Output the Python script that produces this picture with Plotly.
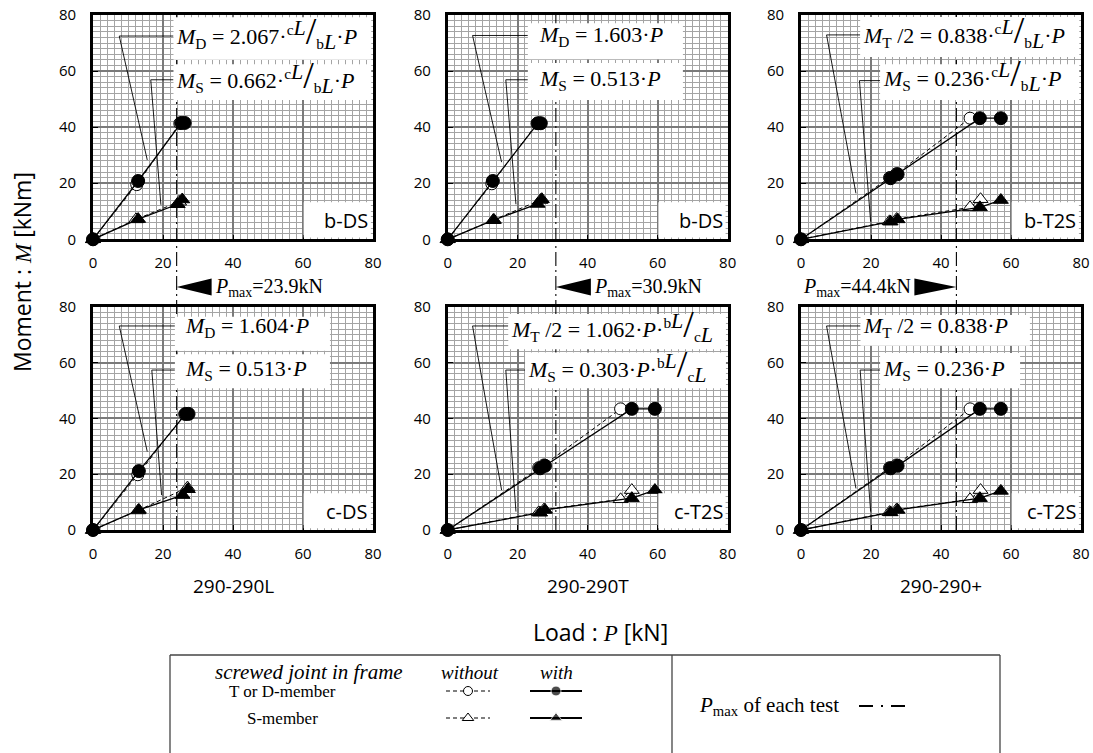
import plotly.graph_objects as go

W, H = 1093, 753

# ---------------- data ----------------
col_titles = ["290-290L", "290-290T", "290-290+"]
tags_top = ["b-DS", "b-DS", "b-T2S"]
tags_bot = ["c-DS", "c-T2S", "c-T2S"]
p_max = [23.9, 30.9, 44.4]          # kN, one per specimen column
axis_ticks = [0, 20, 40, 60, 80]

# slope coefficients of the fitted moment formulas
coef_top_1 = [2.067, 1.603, 0.838]
coef_top_2 = [0.662, 0.513, 0.236]
coef_bot_1 = [1.604, 1.062, 0.838]
coef_bot_2 = [0.513, 0.303, 0.236]

# 290-290L, b-DS
bL_D_with_P = [0, 12.9, 25.2, 26.2]
bL_D_with_M = [0, 20.8, 41.5, 41.5]
bL_D_wo_P = [0, 12.5, 24.8]
bL_D_wo_M = [0, 19.5, 41.3]
bL_S_with_P = [0, 12.9, 24.2, 25.5]
bL_S_with_M = [0, 7.2, 12.5, 14.2]
bL_S_wo_P = [0, 12.3, 24.6]
bL_S_wo_M = [0, 7.1, 13.4]

# 290-290T, b-DS
bT_D_with_P = [0, 12.9, 25.8, 26.6]
bT_D_with_M = [0, 20.8, 41.4, 41.4]
bT_D_wo_P = [0, 12.6, 25.5]
bT_D_wo_M = [0, 19.8, 41.3]
bT_S_with_P = [0, 13.2, 25.7, 26.9]
bT_S_with_M = [0, 6.9, 12.6, 14.3]
bT_S_wo_P = [0, 13.0, 26.5]
bT_S_wo_M = [0, 6.8, 14.0]

# 290-290+, b-T2S
bX_D_with_P = [0, 25.6, 27.6, 51.1, 57.1]
bX_D_with_M = [0, 21.8, 23.2, 43.2, 43.2]
bX_D_wo_P = [0, 25.3, 27.3, 48.3]
bX_D_wo_M = [0, 22.0, 23.4, 43.2]
bX_S_with_P = [0, 25.6, 27.6, 51.1, 57.1]
bX_S_with_M = [0, 6.3, 7.1, 11.4, 14.0]
bX_S_wo_P = [0, 25.3, 27.3, 48.3, 51.3]
bX_S_wo_M = [0, 6.4, 7.2, 11.4, 14.3]

# 290-290L, c-DS
cL_D_with_P = [0, 13.1, 26.5, 27.3]
cL_D_with_M = [0, 21.1, 41.6, 41.6]
cL_D_wo_P = [0, 12.8, 26.2]
cL_D_wo_M = [0, 19.8, 41.5]
cL_S_with_P = [0, 13.1, 25.6, 27.1]
cL_S_with_M = [0, 7.2, 12.5, 14.6]
cL_S_wo_P = [0, 12.9, 27.0]
cL_S_wo_M = [0, 7.0, 15.2]

# 290-290T, c-T2S
cT_D_with_P = [0, 26.4, 27.8, 52.6, 59.2]
cT_D_with_M = [0, 22.1, 23.0, 43.4, 43.4]
cT_D_wo_P = [0, 26.0, 27.5, 49.4]
cT_D_wo_M = [0, 22.3, 23.3, 43.4]
cT_S_with_P = [0, 26.4, 27.8, 52.6, 59.2]
cT_S_with_M = [0, 6.2, 7.2, 11.4, 14.3]
cT_S_wo_P = [0, 26.0, 27.5, 49.4, 52.6]
cT_S_wo_M = [0, 6.3, 7.3, 11.0, 14.3]

# 290-290+, c-T2S
cX_D_with_P = [0, 25.6, 27.6, 51.1, 57.1]
cX_D_with_M = [0, 22.1, 23.0, 43.4, 43.4]
cX_D_wo_P = [0, 25.3, 27.3, 48.3]
cX_D_wo_M = [0, 22.3, 23.3, 43.4]
cX_S_with_P = [0, 25.6, 27.6, 51.1, 57.1]
cX_S_with_M = [0, 6.3, 7.2, 11.4, 14.0]
cX_S_wo_P = [0, 25.3, 27.3, 48.3, 51.3]
cX_S_wo_M = [0, 6.4, 7.3, 11.0, 14.3]

# ---------------- styling / layout geometry ----------------
SERIF = "Liberation Serif"
SANS = "Open Sans"
FS = 22
MINOR = "#a4a4a4"
MAJOR = "#7a7a7a"

col_px = [(93, 373), (447.7, 727.7), (801, 1081)]
row_px = [(15, 239.3), (306.7, 530)]


def frac(num, den):
    return (f"<sup>{num}<span style='font-size:{FS}px'><i>L</i></span></sup>"
            f"<span style='font-size:38px'>/</span>"
            f"<sub>{den}<span style='font-size:{FS}px'><i>L</i></span></sub>")


def ref(n):
    return "" if n == 1 else str(n)


panels = [
    dict(row=0, col=0, tag=tags_top[0],
         D_with=(bL_D_with_P, bL_D_with_M), D_wo=(bL_D_wo_P, bL_D_wo_M),
         S_with=(bL_S_with_P, bL_S_with_M), S_wo=(bL_S_wo_P, bL_S_wo_M),
         f1=f"<i>M</i><sub>D</sub> = {coef_top_1[0]:.3f}·{frac('c', 'b')}·<i>P</i>",
         f2=f"<i>M</i><sub>S</sub> = {coef_top_2[0]:.3f}·{frac('c', 'b')}·<i>P</i>",
         box1=(23.0, 80, 64.0, 79.2), box2=(23.0, 80, 49.7, 62.4),
         t1=(23.2, 73.8), t2=(23.2, 58.3),
         lead1=([23.0, 7.5, 15.5], [72.5, 72.5, 28.3]),
         lead2=([23.0, 16.5, 19.4], [56.9, 56.9, 12.3])),
    dict(row=0, col=1, tag=tags_top[1],
         D_with=(bT_D_with_P, bT_D_with_M), D_wo=(bT_D_wo_P, bT_D_wo_M),
         S_with=(bT_S_with_P, bT_S_with_M), S_wo=(bT_S_wo_P, bT_S_wo_M),
         f1=f"<i>M</i><sub>D</sub> = {coef_top_1[1]:.3f}·<i>P</i>",
         f2=f"<i>M</i><sub>S</sub> = {coef_top_2[1]:.3f}·<i>P</i>",
         box1=(22.9, 67.2, 64.2, 77.1), box2=(22.9, 67.2, 49.7, 62.9),
         t1=(25.4, 72.4), t2=(25.4, 56.9),
         lead1=([22.9, 7.1, 15.4], [72.7, 72.7, 27.5]),
         lead2=([22.9, 16.6, 19.5], [56.9, 56.9, 12.5])),
    dict(row=0, col=2, tag=tags_top[2],
         D_with=(bX_D_with_P, bX_D_with_M), D_wo=(bX_D_wo_P, bX_D_wo_M),
         S_with=(bX_S_with_P, bX_S_with_M), S_wo=(bX_S_wo_P, bX_S_wo_M),
         f1=f"<i>M</i><sub>T</sub> /2 = {coef_top_1[2]:.3f}·{frac('c', 'b')}·<i>P</i>",
         f2=f"<i>M</i><sub>S</sub> = {coef_top_2[2]:.3f}·{frac('c', 'b')}·<i>P</i>",
         box1=(16.9, 80, 65.0, 79.3), box2=(22.6, 80, 49.7, 62.4),
         t1=(17.1, 74.3), t2=(22.8, 58.8),
         lead1=([16.9, 7.3, 15.7], [72.9, 72.9, 16.4]),
         lead2=([22.6, 16.7, 19.9], [56.6, 56.6, 6.3])),
    dict(row=1, col=0, tag=tags_bot[0],
         D_with=(cL_D_with_P, cL_D_with_M), D_wo=(cL_D_wo_P, cL_D_wo_M),
         S_with=(cL_S_with_P, cL_S_with_M), S_wo=(cL_S_wo_P, cL_S_wo_M),
         f1=f"<i>M</i><sub>D</sub> = {coef_bot_1[0]:.3f}·<i>P</i>",
         f2=f"<i>M</i><sub>S</sub> = {coef_bot_2[0]:.3f}·<i>P</i>",
         box1=(23.4, 67.7, 64.2, 76.4), box2=(23.4, 67.7, 50.8, 63.0),
         t1=(25.8, 72.6), t2=(25.8, 57.3),
         lead1=([23.4, 7.5, 15.5], [73.1, 73.1, 28.1]),
         lead2=([23.4, 16.8, 19.6], [57.3, 57.3, 12.5])),
    dict(row=1, col=1, tag=tags_bot[1],
         D_with=(cT_D_with_P, cT_D_with_M), D_wo=(cT_D_wo_P, cT_D_wo_M),
         S_with=(cT_S_with_P, cT_S_with_M), S_wo=(cT_S_wo_P, cT_S_wo_M),
         f1=f"<i>M</i><sub>T</sub> /2 = {coef_bot_1[1]:.3f}·<i>P</i>·{frac('b', 'c')}",
         f2=f"<i>M</i><sub>S</sub> = {coef_bot_2[1]:.3f}·<i>P</i>·{frac('b', 'c')}",
         box1=(17.3, 80, 64.8, 77.4), box2=(22.1, 80, 50.8, 63.6),
         t1=(17.5, 73.6), t2=(22.3, 59.2),
         lead1=([17.3, 7.1, 15.4], [73.1, 73.1, 14.3]),
         lead2=([22.1, 16.6, 19.5], [57.3, 57.3, 6.6])),
    dict(row=1, col=2, tag=tags_bot[2],
         D_with=(cX_D_with_P, cX_D_with_M), D_wo=(cX_D_wo_P, cX_D_wo_M),
         S_with=(cX_S_with_P, cX_S_with_M), S_wo=(cX_S_wo_P, cX_S_wo_M),
         f1=f"<i>M</i><sub>T</sub> /2 = {coef_bot_1[2]:.3f}·<i>P</i>",
         f2=f"<i>M</i><sub>S</sub> = {coef_bot_2[2]:.3f}·<i>P</i>",
         box1=(17.0, 65.4, 66.0, 77.0), box2=(22.6, 62.6, 50.8, 63.4),
         t1=(17.2, 72.7), t2=(22.8, 57.3),
         lead1=([17.0, 7.3, 15.7], [73.1, 73.1, 14.9]),
         lead2=([22.6, 16.9, 19.9], [57.3, 57.3, 6.6])),
]

fig = go.Figure()
shapes, annotations = [], []
layout_axes = {}


def axis_style(domain, anchor, is_x):
    return dict(
        domain=domain, anchor=anchor, range=[0, 80], automargin=False,
        tickmode="linear", tick0=0, dtick=20,
        showgrid=True, gridcolor=MAJOR, gridwidth=2.4,
        minor=dict(tickmode="linear", tick0=0, dtick=2, showgrid=True,
                   gridcolor=MINOR, gridwidth=1.3),
        showline=True, linecolor="black", linewidth=2.6, mirror=True,
        ticks="inside", ticklen=5, tickwidth=1.2, tickcolor="black",
        zeroline=False, fixedrange=True,
        tickfont=dict(family=SANS, size=15, color="black"),
        ticklabelstandoff=8 if is_x else 11,
    )


for p in panels:
    n = p["row"] * 3 + p["col"] + 1
    xr, yr = "x" + ref(n), "y" + ref(n)
    x0, x1 = col_px[p["col"]]
    y0, y1 = row_px[p["row"]]
    layout_axes["xaxis" + ref(n)] = axis_style([x0 / W, x1 / W], yr, True)
    layout_axes["yaxis" + ref(n)] = axis_style([1 - y1 / H, 1 - y0 / H], xr, False)

    # leader lines from the formula boxes
    for key in ("lead1", "lead2"):
        lx, ly = p[key]
        fig.add_trace(go.Scatter(x=lx, y=ly, xaxis=xr, yaxis=yr, mode="lines",
                                 line=dict(color="black", width=0.9),
                                 showlegend=False, hoverinfo="skip"))

    # test results: without (dashed, open) under with (solid, filled)
    for key, sym, size in (("S_wo", "triangle-up", 13), ("D_wo", "circle", 12)):
        px_, my_ = p[key]
        fig.add_trace(go.Scatter(x=px_, y=my_, xaxis=xr, yaxis=yr, mode="lines+markers",
                                 line=dict(color="black", width=1.0, dash="4px,3px"),
                                 marker=dict(symbol=sym, size=size, color="white",
                                             line=dict(color="black", width=1)),
                                 cliponaxis=False, showlegend=False, hoverinfo="skip"))
    for key, sym, size in (("S_with", "triangle-up", 13), ("D_with", "circle", 13)):
        px_, my_ = p[key]
        fig.add_trace(go.Scatter(x=px_, y=my_, xaxis=xr, yaxis=yr, mode="lines+markers",
                                 line=dict(color="black", width=1.3),
                                 marker=dict(symbol=sym, size=size, color="black",
                                             line=dict(color="black", width=1)),
                                 cliponaxis=False, showlegend=False, hoverinfo="skip"))

# P_max lines spanning both rows of each column
top_paper = 1 - row_px[0][0] / H
bot_paper = 1 - row_px[1][1] / H
for c, pm in enumerate(p_max):
    shapes.append(dict(type="line", xref="x" + ref(c + 1), yref="paper",
                       x0=pm, x1=pm, y0=bot_paper, y1=top_paper, layer="above",
                       line=dict(color="black", width=1.1, dash="14px,4px,2px,4px")))

# white boxes behind formulas and panel tags
for p in panels:
    n = p["row"] * 3 + p["col"] + 1
    xr, yr = "x" + ref(n), "y" + ref(n)
    for key in ("box1", "box2"):
        bx0, bx1, by0, by1 = p[key]
        shapes.append(dict(type="rect", xref=xr, yref=yr, x0=bx0, x1=min(bx1, 79.5),
                           y0=by0, y1=by1, fillcolor="white", line=dict(width=0), layer="above"))
    shapes.append(dict(type="rect", xref=xr, yref=yr, x0=60.2, x1=79.4, y0=0.6, y1=13.2,
                       fillcolor="white", line=dict(width=0), layer="above"))
    for key, tk in (("f1", "t1"), ("f2", "t2")):
        annotations.append(dict(xref=xr, yref=yr, x=p[tk][0], y=p[tk][1], text=p[key],
                                xanchor="left", yanchor="middle", showarrow=False,
                                font=dict(family=SERIF, size=FS, color="black")))
    annotations.append(dict(xref=xr, yref=yr, x=79.2, y=6.6, text=p["tag"],
                            xanchor="right", yanchor="middle", showarrow=False,
                            font=dict(family=SANS, size=20, color="black")))

# P_max labels with arrowheads between the rows
lab_y = 1 - 287 / H
half = 8.5 / H
for c, pm in enumerate(p_max):
    xr = "x" + ref(c + 1)
    label = f"<i>P</i><sub>max</sub>={pm}kN"
    if c < 2:
        shapes.append(dict(type="path", xref=xr, yref="paper",
                           path=f"M {pm},{lab_y} L {pm + 10},{lab_y + half} L {pm + 10},{lab_y - half} Z",
                           fillcolor="black", line=dict(width=0), layer="above"))
        annotations.append(dict(xref=xr, yref="paper", x=pm + 10.3, y=lab_y, text=label,
                                xanchor="left", yanchor="middle", showarrow=False,
                                font=dict(family=SERIF, size=20, color="black")))
    else:
        shapes.append(dict(type="path", xref=xr, yref="paper",
                           path=f"M {pm},{lab_y} L {pm - 12},{lab_y + half} L {pm - 12},{lab_y - half} Z",
                           fillcolor="black", line=dict(width=0), layer="above"))
        annotations.append(dict(xref=xr, yref="paper", x=pm - 12.3, y=lab_y, text=label,
                                xanchor="right", yanchor="middle", showarrow=False,
                                font=dict(family=SERIF, size=20, color="black")))

# column titles and axis titles
for c, t in enumerate(col_titles):
    cx = (col_px[c][0] + col_px[c][1]) / 2 / W
    annotations.append(dict(xref="paper", yref="paper", x=cx, y=1 - 586 / H, text=t,
                            showarrow=False, xanchor="center", yanchor="middle",
                            font=dict(family=SANS, size=19, color="black")))
annotations.append(dict(xref="paper", yref="paper", x=600 / W, y=1 - 632 / H,
                        text=f"Load : <span style='font-family:{SERIF}'><i>P</i></span> [kN]",
                        showarrow=False, xanchor="center", yanchor="middle",
                        font=dict(family=SANS, size=23, color="black")))
annotations.append(dict(xref="paper", yref="paper", x=22 / W, y=1 - 272 / H,
                        text=f"Moment : <span style='font-family:{SERIF}'><i>M</i></span> [kNm]",
                        showarrow=False, xanchor="center", yanchor="middle", textangle=-90,
                        font=dict(family=SANS, size=23, color="black")))

# ---------------- key box (pixel coordinates on a hidden axis) ----------------
LX0, LX1, LY0 = 160, 1010, 645
layout_axes["xaxis7"] = dict(domain=[LX0 / W, LX1 / W], range=[LX0, LX1], visible=False,
                             fixedrange=True, anchor="y7", automargin=False)
layout_axes["yaxis7"] = dict(domain=[0, (H - LY0) / H], range=[H, LY0], visible=False,
                             fixedrange=True, anchor="x7", automargin=False)

box_l, box_r, box_t, box_b, box_div = 170, 1000, 655, 753, 672
for xs, ys in (([box_l, box_r], [box_t, box_t]), ([box_l, box_l], [box_t, box_b]),
               ([box_r, box_r], [box_t, box_b]), ([box_div, box_div], [box_t, box_b])):
    fig.add_trace(go.Scatter(x=xs, y=ys, xaxis="x7", yaxis="y7", mode="lines",
                             line=dict(color="#444444", width=1.3), cliponaxis=False,
                             showlegend=False, hoverinfo="skip"))

row_D, row_S, row_head, row_pm = 691, 718, 672, 706
key_rows = [(row_D, "circle", 9), (row_S, "triangle-up", 10)]
for ry, sym, size in key_rows:
    fig.add_trace(go.Scatter(x=[446, 468, 490], y=[ry, ry, ry], xaxis="x7", yaxis="y7",
                             mode="lines", line=dict(color="black", width=1.2, dash="4px,3px"),
                             showlegend=False, hoverinfo="skip"))
    fig.add_trace(go.Scatter(x=[468], y=[ry], xaxis="x7", yaxis="y7", mode="markers",
                             marker=dict(symbol=sym, size=size, color="white",
                                         line=dict(color="black", width=1)),
                             showlegend=False, hoverinfo="skip"))
    fig.add_trace(go.Scatter(x=[530, 556, 582], y=[ry, ry, ry], xaxis="x7", yaxis="y7",
                             mode="lines+markers", line=dict(color="black", width=2),
                             marker=dict(symbol=sym, size=[0, size + 1, 0], color="black"),
                             showlegend=False, hoverinfo="skip"))
fig.add_trace(go.Scatter(x=[859, 905], y=[row_pm, row_pm], xaxis="x7", yaxis="y7",
                         mode="lines", line=dict(color="black", width=2, dash="14px,8px,2px,8px"),
                         showlegend=False, hoverinfo="skip"))

key_texts = [
    (309, row_head, "<i>screwed joint in frame</i>", "center", 21),
    (470, row_head, "<i>without</i>", "center", 19),
    (556, row_head, "<i>with</i>", "center", 19),
    (282, row_D, "T or D-member", "center", 17),
    (282, row_S, "S-member", "center", 17),
    (697, row_pm, "<i>P</i><sub>max</sub> of each test", "left", 21),
]
for kx, ky, kt, anc, ks in key_texts:
    annotations.append(dict(xref="x7", yref="y7", x=kx, y=ky, text=kt, showarrow=False,
                            xanchor=anc, yanchor="middle",
                            font=dict(family=SERIF, size=ks, color="black")))

fig.update_layout(
    width=W, height=H, margin=dict(l=0, r=0, t=0, b=0, autoexpand=False),
    paper_bgcolor="white", plot_bgcolor="rgba(0,0,0,0)",
    showlegend=False, shapes=shapes, annotations=annotations,
    **layout_axes,
)

fig.write_html("out.html")
